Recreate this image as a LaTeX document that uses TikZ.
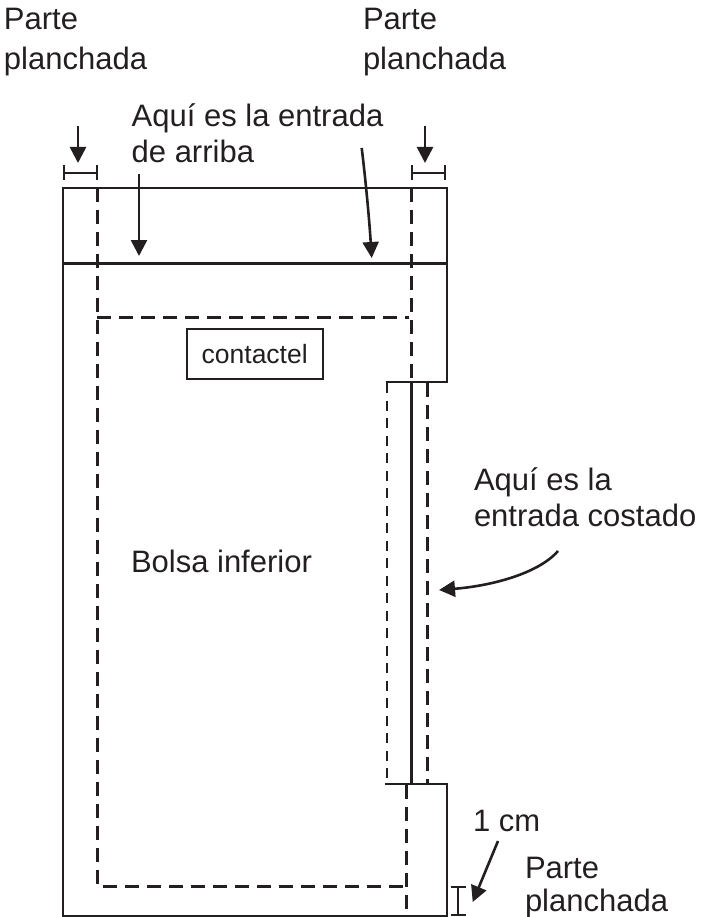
\documentclass[tikz,border=0pt]{standalone}
\usepackage{fontspec}
\setmainfont{Liberation Sans}
\usetikzlibrary{arrows.meta}
\definecolor{ink}{HTML}{231F20}
\tikzset{
  lbl/.style={anchor=base west,inner sep=0pt,outer sep=0pt,font=\fontsize{31}{31}\selectfont,text=ink},
  outl/.style={draw=ink,line width=2pt},
  heavy/.style={draw=ink,line width=3pt},
  dsh/.style={draw=ink,line width=3pt,dash pattern=on 14pt off 8pt},
  dshthin/.style={draw=ink,line width=2.4pt,dash pattern=on 10pt off 7.5pt},
  ptr/.style={draw=ink,line width=2.6pt,-{Triangle[length=16pt,width=16pt]}},
  brk/.style={draw=ink,line width=2.4pt,{Bar[width=15pt]}-{Bar[width=15pt]}},
}
\begin{document}
\begin{tikzpicture}[x=1pt,y=-1pt]
\useasboundingbox (0,0) rectangle (707,917);
% outlines
\draw[outl] (386,381.5) -- (446.7,381.5) -- (446.7,188) -- (62.7,188) -- (62.7,916) -- (446.7,916) -- (446.7,784) -- (385,784);
\draw[heavy] (62.7,263) -- (446.7,263);
\draw[heavy] (411.7,381.5) -- (411.7,784);
% stitching
\draw[dsh] (97.3,188) -- (97.3,886) -- (406.3,886);
\draw[dsh] (97.3,317) -- (409,317);
\draw[dsh] (411,188) -- (411,380);
\draw[dsh] (406.3,785) -- (406.3,916);
\draw[dshthin] (387,383) -- (387,784);
\draw[dsh] (427,383) -- (427,784);
% brackets and arrows
\coordinate (la) at (78,126); \coordinate (lb) at (78,163);
\coordinate (ra) at (425,126); \coordinate (rb) at (425,163);
\draw[ptr] (la) -- (lb);
\draw[ptr] (ra) -- (rb);
\coordinate (b1) at (62.7,173); \coordinate (b2) at (98,173);
\coordinate (b3) at (411,173); \coordinate (b4) at (446,173);
\draw[brk] (b1) -- (b2);
\draw[brk] (b3) -- (b4);
\coordinate (e1) at (139,174); \coordinate (e2) at (139,256);
\draw[ptr] (e1) -- (e2);
\coordinate (e3) at (361.7,148); \coordinate (e4) at (371.7,258);
\draw[ptr] (e3) .. controls (365,175) and (369,215) .. (e4);
\coordinate (c1) at (558,551); \coordinate (c2) at (439,590);
\draw[ptr] (c1) .. controls (538,574) and (490,586) .. (c2);
\coordinate (i1) at (458,886); \coordinate (i2) at (458,916);
\draw[brk] (i1) -- (i2);
\coordinate (o1) at (498,841); \coordinate (o2) at (472.7,902);
\draw[ptr] (o1) -- (o2);
% box
\node[draw=ink,line width=2pt,minimum width=136pt,minimum height=50pt,inner sep=0pt,anchor=north west,font=\fontsize{26.5}{26.5}\selectfont,text=ink] (contactel) at (185.7,328) {contactel};
% labels
\node[lbl] (t1) at (4,30) {Parte};
\node[lbl] (t2) at (4,70) {planchada};
\node[lbl] (t3) at (363,30) {Parte};
\node[lbl] (t4) at (363,70) {planchada};
\node[lbl] (t5) at (131.7,127) {Aquí es la entrada};
\node[lbl] (t6) at (131.7,163) {de arriba};
\node[lbl] (t7) at (131,572) {Bolsa inferior};
\node[lbl] (t8) at (474,490) {Aquí es la};
\node[lbl] (t9) at (474,526) {entrada costado};
\node[lbl] (t10) at (473,831) {1 cm};
\node[lbl] (t11) at (525,878) {Parte};
\node[lbl] (t12) at (525,911) {planchada};
\end{tikzpicture}
\end{document}
